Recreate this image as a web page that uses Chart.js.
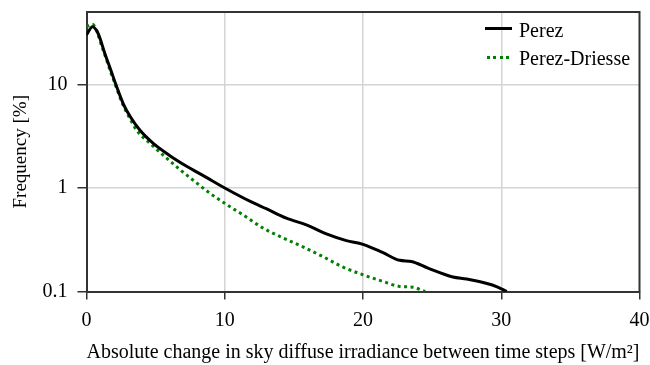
<!DOCTYPE html>
<html>
<head>
<meta charset="utf-8">
<script src="https://cdn.jsdelivr.net/npm/chart.js@4/dist/chart.umd.min.js"></script>
<style>
  html, body { margin: 0; padding: 0; background: #fff; }
  #wrap { position: relative; width: 650px; height: 365px; }
  .leg-text {
    position: absolute; font-family: 'Liberation Serif', serif; font-size: 20px;
    line-height: 20px; color: #000; white-space: nowrap;
  }
  .leg-line { position: absolute; height: 3px; }
</style>
</head>
<body>
<div id="wrap">
  <canvas id="chart" width="650" height="365"></canvas>
  <div class="leg-line" style="left:485px; top:27px; width:27px; background:#000;"></div>
  <div class="leg-text" style="left:519px; top:20px;">Perez</div>
  <div class="leg-line" style="left:487px; top:56px; width:25px;
       background:repeating-linear-gradient(to right, #008000 0 3px, transparent 3px 6.5px);"></div>
  <div class="leg-text" style="left:519px; top:47.5px;">Perez-Driesse</div>
</div>
<script>
// values
const perezX = [0, 0.43, 0.84, 1.32, 1.82, 2.12, 2.66, 3.16, 3.87, 4.83, 6.03, 7.24, 8.6, 10, 12.04, 13.0, 14.46,
  15.9, 17.35, 18.8, 20, 21.45, 22.65, 23.5, 24.7, 26.5, 27.5, 28.9, 29.7, 30.4];
const perezY = [30, 36, 31, 20, 13, 10, 6.5, 4.9, 3.6, 2.69, 2.05, 1.62, 1.28, 1.0, 0.72, 0.63, 0.51,
  0.44, 0.36, 0.31, 0.285, 0.237, 0.20, 0.195, 0.168, 0.138, 0.132, 0.12, 0.111, 0.1];

const driesseX = [0, 0.43, 1.2, 1.72, 2.08, 2.6, 3.08, 3.63, 4.6, 5.68, 6.77, 7.74, 8.92, 10, 11.32, 12.77, 14.2,
  15.66, 17.1, 18.56, 20, 21.45, 22.65, 23.6, 24.5];
const driesseY = [36, 38, 21.5, 13.5, 10, 6.5, 4.85, 3.6, 2.69, 2.0, 1.5, 1.18, 0.89, 0.71, 0.55, 0.41, 0.33,
  0.27, 0.217, 0.172, 0.145, 0.125, 0.112, 0.110, 0.1];

const xTicks = [0, 10, 20, 30, 40];
const yMajor = [0.1, 1, 10];

const FONT = 'Liberation Serif';
const GRID = '#d4d4d4';
const AXIS = '#333';

const toPoints = (xs, ys) => xs.map((x, i) => ({ x, y: ys[i] }));
const isMajor = (v) => yMajor.some((m) => Math.abs(m - v) < 1e-9);
const fmt = (v) => String(Number(v.toPrecision(3)));

// short minor ticks on the log axis + closing box
const framePlugin = {
  id: 'frame',
  afterDraw(chart) {
    const { ctx, chartArea: a, scales: { y } } = chart;
    ctx.save();
    ctx.strokeStyle = AXIS;
    ctx.lineWidth = 1.5;
    y.ticks.forEach((t) => {
      if (isMajor(t.value) || t.value >= y.max) return;
      const py = Math.round(y.getPixelForValue(t.value)) + 0.5;
      ctx.beginPath();
      ctx.moveTo(a.left - 5, py);
      ctx.lineTo(a.left, py);
      ctx.stroke();
    });
    ctx.lineWidth = 2;
    ctx.beginPath();
    ctx.moveTo(a.left, a.top);
    ctx.lineTo(a.right, a.top);
    ctx.lineTo(a.right, a.bottom);
    ctx.stroke();
    ctx.restore();
  },
};

new Chart(document.getElementById('chart'), {
  type: 'line',
  data: {
    datasets: [
      {
        label: 'Perez',
        data: toPoints(perezX, perezY),
        borderColor: '#000',
        borderWidth: 3,
        pointRadius: 0,
        cubicInterpolationMode: 'monotone',
      },
      {
        label: 'Perez-Driesse',
        data: toPoints(driesseX, driesseY),
        borderColor: '#008000',
        borderWidth: 3,
        borderDash: [3, 3.5],
        pointRadius: 0,
        cubicInterpolationMode: 'monotone',
      },
    ],
  },
  options: {
    responsive: false,
    animation: false,
    devicePixelRatio: 1,
    layout: { padding: { left: 0, right: 10.5, top: 12, bottom: 0 } },
    plugins: { legend: { display: false }, tooltip: { enabled: false } },
    scales: {
      x: {
        type: 'linear',
        min: 0,
        max: 40,
        afterBuildTicks: (s) => { s.ticks = xTicks.map((v) => ({ value: v })); },
        afterFit: (s) => { s.height = 73.5; s.paddingLeft = 0; s.paddingRight = 0; },
        ticks: { color: '#000', font: { family: FONT, size: 20 }, padding: 9, maxRotation: 0 },
        grid: {
          color: (c) => (c.tick && c.tick.value > 0 && c.tick.value < 40 ? GRID : 'transparent'),
          lineWidth: 1.5,
          tickColor: AXIS,
          tickLength: 8,
          tickWidth: 1.5,
        },
        border: { color: AXIS, width: 2 },
        title: {
          display: true,
          text: 'Absolute change in sky diffuse irradiance between time steps [W/m²]',
          color: '#000',
          font: { family: FONT, size: 20 },
          padding: { top: 0, bottom: 0 },
        },
      },
      y: {
        type: 'logarithmic',
        min: 0.1,
        max: 50,
        afterFit: (s) => { s.width = 86.5; s.paddingTop = 0; s.paddingBottom = 0; },
        ticks: {
          autoSkip: false,
          color: '#000',
          font: { family: FONT, size: 20 },
          padding: 10,
          callback: (v) => (isMajor(v) ? fmt(v) : null),
        },
        grid: {
          color: (c) => (c.tick && isMajor(c.tick.value) && c.tick.value > 0.1 ? GRID : 'transparent'),
          lineWidth: 1.5,
          tickColor: (c) => (c.tick && isMajor(c.tick.value) ? AXIS : 'transparent'),
          tickLength: 9,
          tickWidth: 1.5,
        },
        border: { color: AXIS, width: 2 },
        title: {
          display: true,
          text: 'Frequency [%]',
          color: '#000',
          font: { family: FONT, size: 19 },
          padding: { top: 9.5, bottom: 0 },
        },
      },
    },
  },
  plugins: [framePlugin],
});
</script>
</body>
</html>
